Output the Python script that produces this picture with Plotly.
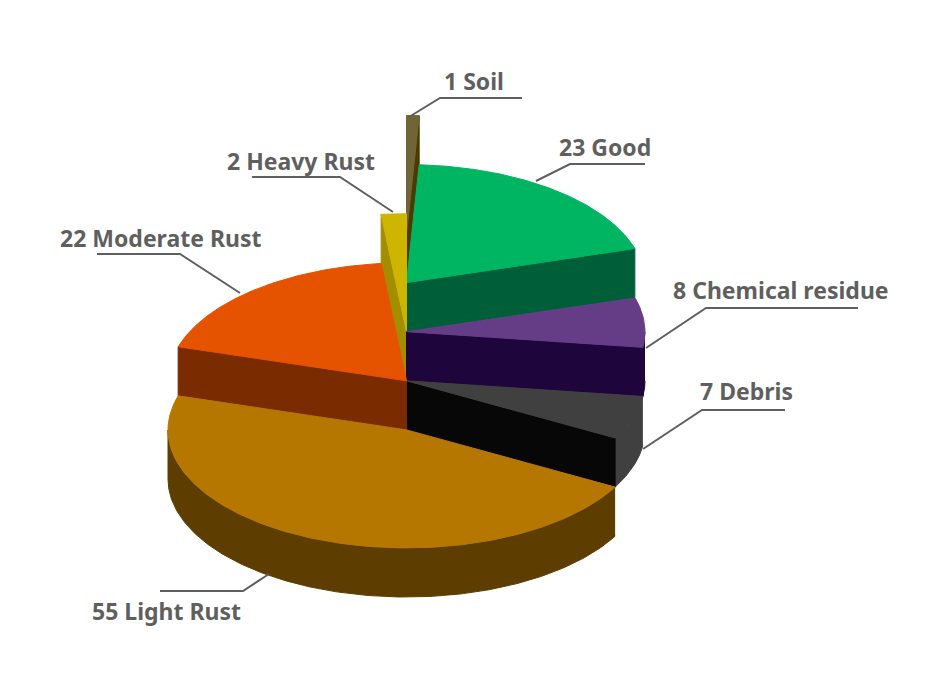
import numpy as np
import plotly.graph_objects as go

# --- data ---
names = ["Soil", "Good", "Chemical residue", "Debris", "Light Rust", "Moderate Rust", "Heavy Rust"]
counts = [1, 23, 8, 7, 55, 22, 2]

# --- colours ---
top_colors = ["#6F6536", "#00B561", "#653D87", "#404040", "#B67700", "#E55200", "#CDB500"]
side_colors = ["#4A3C00", "#005F38", "#1E053C", "#070707", "#5E3E00", "#7A2B00", "#A38E00"]
wall_colors = ["#4A3C00", "#005F38", "#1E053C", "#404040", "#5E3E00", "#7A2B00", "#A38E00"]
TEXT_COLOR = "#5F5F5F"

# --- pie geometry, in page pixels ---
CX = 406.5
RX = 238.5
RY = 118
DEPTH = 49.1
TOP_Y = 233.5  # apex of the first slice
levels = [0, 1, 2, 3, 4, 3, 2]  # each slice sits one step lower than the one before
draw_order = [0, 1, 6, 2, 3, 5, 4]  # back to front

# label text position (left, middle) and leader line
label_xy = [(444, 81), (559, 147), (673, 290), (700, 391), (92, 611), (60, 238), (227, 161)]
leader_x = [[409, 440, 522], [536, 570, 645], [646, 706, 858], [643, 702, 785],
            [269, 243, 160], [240, 180, 97], [393, 340, 252]]
leader_y = [[117, 98, 98], [181, 164, 164], [348, 308, 308], [449, 410, 410],
            [574, 591, 591], [293, 254, 254], [212, 177, 177]]


def rim(theta, apex_y):
    return CX + RX * np.sin(theta), apex_y - RY * np.cos(theta)


def add_face(fig, xs, ys, color, name):
    fig.add_trace(go.Scatter(
        x=list(xs), y=list(ys), mode="lines", fill="toself", fillcolor=color,
        line=dict(color=color, width=1), name=name, hoverinfo="name", showlegend=False,
    ))


def radial_face(fig, theta, apex_y, color, name):
    rx, ry = rim(theta, apex_y)
    add_face(fig, [CX, rx, rx, CX, CX],
             [apex_y, ry, ry + DEPTH, apex_y + DEPTH, apex_y], color, name)


fig = go.Figure()

edges = np.radians(np.cumsum([0] + counts) / sum(counts) * 360)

for i in draw_order:
    start, end = edges[i], edges[i + 1]
    apex_y = TOP_Y + levels[i] * DEPTH
    thetas = np.linspace(start, end, 200)
    label = f"{counts[i]} {names[i]}"

    # outer wall, only the front half of the rim
    front = thetas[np.cos(thetas) < 0]
    if len(front) > 1:
        wx, wy = rim(front, apex_y)
        add_face(fig, np.r_[wx, wx[::-1]], np.r_[wy, wy[::-1] + DEPTH], wall_colors[i], label)

    # radial cut faces that look towards the viewer
    if np.sin(start) < 0:
        radial_face(fig, start, apex_y, side_colors[i], label)
    if np.sin(end) > 0:
        radial_face(fig, end, apex_y, side_colors[i], label)

    # top face
    tx, ty = rim(thetas, apex_y)
    add_face(fig, np.r_[CX, tx, CX], np.r_[apex_y, ty, apex_y], top_colors[i], label)

# leader lines
for lx, ly in zip(leader_x, leader_y):
    fig.add_trace(go.Scatter(x=lx, y=ly, mode="lines", hoverinfo="skip", showlegend=False,
                             line=dict(color=TEXT_COLOR, width=2)))

for (x, y), n, c in zip(label_xy, names, counts):
    fig.add_annotation(x=x, y=y, text=f"{c} {n}", showarrow=False, xanchor="left", yanchor="middle",
                       xshift=-2, font=dict(family="Noto Sans", size=23, color=TEXT_COLOR, weight=700))

fig.update_layout(
    width=932, height=691, margin=dict(l=0, r=0, t=0, b=0),
    paper_bgcolor="white", plot_bgcolor="white",
    xaxis=dict(range=[0, 932], visible=False, fixedrange=True),
    yaxis=dict(range=[691, 0], visible=False, fixedrange=True),
)

fig.write_html("out.html", config={"displayModeBar": False},
               post_script="document.body.style.margin='0';")
